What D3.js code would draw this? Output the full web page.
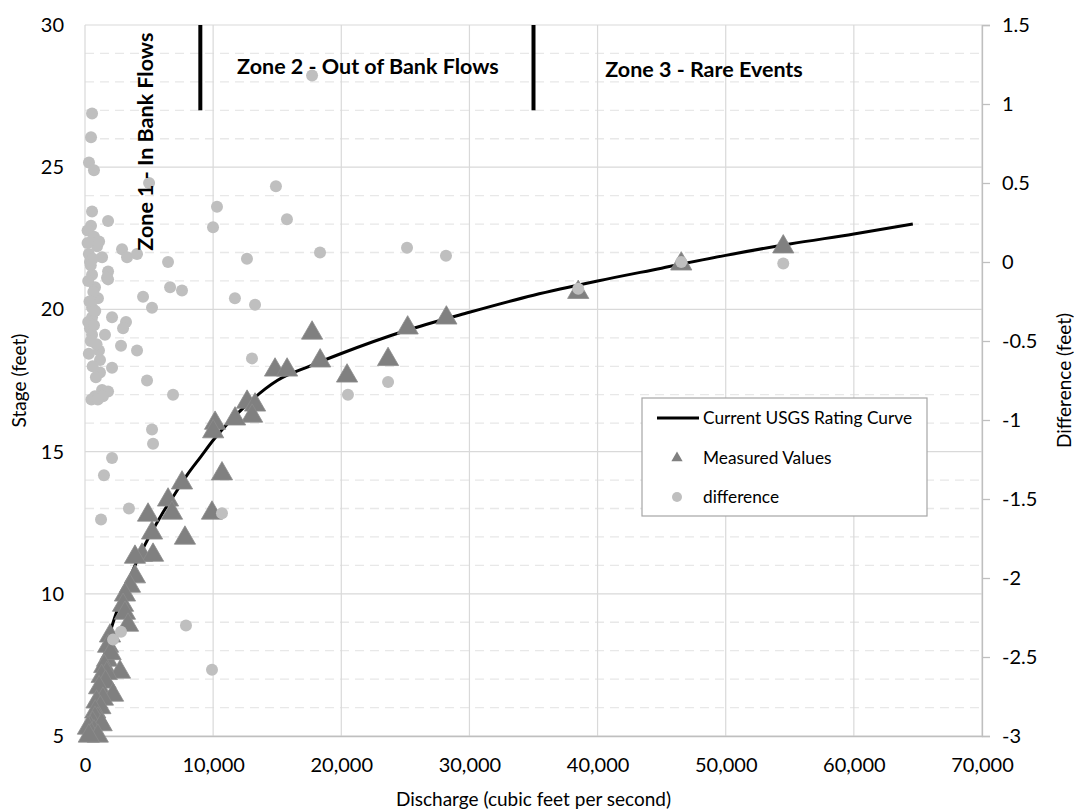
<!DOCTYPE html>
<html>
<head>
<meta charset="utf-8">
<script src="https://cdn.jsdelivr.net/npm/d3@7"></script>
<style>
  body { margin: 0; background: #fff; }
  svg { font-family: Lato, "Open Sans", sans-serif; }
</style>
</head>
<body>
<svg id="chart" width="1074" height="811"></svg>
<script>
// rating curve, [discharge, stage]
const ratingCurve = [
  [400, 5.0], [700, 5.9], [1000, 6.7], [1500, 7.8], [2000, 8.7], [2500, 9.4],
  [3000, 10.0], [4000, 11.1], [5000, 12.0], [6000, 12.8], [7000, 13.5],
  [8000, 14.2], [9000, 14.8], [10000, 15.4], [12500, 16.6], [15000, 17.5],
  [17500, 18.0], [20000, 18.45], [25000, 19.25], [30000, 19.9], [35000, 20.5],
  [40000, 21.0], [45000, 21.45], [50000, 21.9], [55000, 22.3], [60000, 22.65],
  [64600, 23.0],
];

// measured values, [discharge, stage]
const measured = [
  [38490, 20.6], [46530, 21.6], [54490, 22.2], [28200, 19.7], [25180, 19.35],
  [23650, 18.24], [20450, 17.66], [17720, 19.17], [18350, 18.19], [14830, 17.87],
  [15770, 17.87], [12650, 16.74], [13270, 16.64], [13040, 16.25], [11710, 16.15],
  [10150, 16.0], [10000, 15.7], [10690, 14.22], [9910, 12.84], [7570, 13.9],
  [6480, 13.3], [6790, 12.84], [4920, 12.77], [5230, 12.14], [7800, 11.96],
  [4450, 11.36], [5310, 11.36], [3900, 11.29], [3900, 10.6], [3510, 10.27],
  [3120, 9.96], [2970, 9.6], [3120, 9.32], [3360, 8.9], [1950, 8.52],
  [1800, 8.16], [1720, 7.67], [2000, 7.9], [1500, 7.45], [2730, 7.25],
  [1700, 7.2], [1300, 7.1], [1600, 6.9], [1100, 6.7], [2190, 6.44],
  [1400, 6.3], [900, 6.2], [1200, 6.0], [800, 5.85], [1000, 5.6],
  [780, 5.63], [600, 5.45], [1300, 5.4], [400, 5.3], [230, 5.28],
  [700, 5.15], [500, 5.05], [1000, 5.0], [300, 5.0],
];

// difference, [discharge, feet] on the right axis
const difference = [
  [550, 0.94], [470, 0.79], [310, 0.63], [700, 0.58], [5000, 0.50],
  [17720, 1.18], [14900, 0.48], [10300, 0.35], [9990, 0.22], [15760, 0.27],
  [12640, 0.02], [18340, 0.06], [11700, -0.23], [13270, -0.27], [13030, -0.61],
  [23650, -0.76], [20520, -0.84], [25130, 0.09], [28170, 0.04], [38490, -0.17],
  [46530, 0.0], [54490, -0.01], [10690, -1.59],
  [550, 0.32], [470, 0.23], [1800, 0.26], [2890, 0.08], [3280, 0.03],
  [4060, 0.05], [6480, 0.0], [940, 0.10], [1330, 0.03], [390, 0.0],
  [1800, -0.06], [550, -0.08], [1720, -0.10], [1800, -0.11], [6640, -0.16],
  [7570, -0.18], [4530, -0.22], [5230, -0.29], [780, -0.16], [1010, -0.23],
  [550, -0.29], [2110, -0.35], [3200, -0.38], [2970, -0.42], [550, -0.35],
  [390, -0.42], [1560, -0.46], [550, -0.46], [2810, -0.53], [4060, -0.56],
  [1090, -0.56], [1170, -0.62], [2110, -0.67], [1170, -0.70], [4840, -0.75],
  [1330, -0.81], [1800, -0.82], [780, -0.85], [1400, -0.85], [6870, -0.84],
  [5230, -1.06], [5310, -1.15], [2110, -1.24], [1480, -1.35],
  [3430, -1.56], [1250, -1.63], [7880, -2.30], [2810, -2.34], [2190, -2.39],
  [9910, -2.58],
  [200, 0.12], [300, 0.05], [600, 0.02], [450, -0.02], [250, -0.12],
  [650, -0.19], [350, -0.25], [800, -0.31], [250, -0.38], [700, -0.40],
  [450, -0.50], [900, -0.52], [300, -0.58], [600, -0.66], [850, -0.73],
  [500, -0.87], [1000, -0.87], [200, 0.20], [700, 0.16], [1100, 0.13],
];

const zoneBounds = [9000, 35000];
const zoneLabels = ['Zone 1 - In Bank Flows', 'Zone 2 - Out of Bank Flows', 'Zone 3 - Rare Events'];
const legendLabels = ['Current USGS Rating Curve', 'Measured Values', 'difference'];

const GRID = '#d9d9d9';
const TRI = '#808080';
const DOT = '#bfbfbf';

const plot = { left: 85, right: 982, top: 25, bottom: 736 };
const svg = d3.select('#chart');

const x = d3.scaleLinear().domain([0, 70000]).range([plot.left, plot.right]);
const y = d3.scaleLinear().domain([5, 30]).range([plot.bottom, plot.top]);
const y2 = d3.scaleLinear().domain([-3, 1.5]).range([plot.bottom, plot.top]);

// minor dashed gridlines every foot
svg.append('g')
  .selectAll('line')
  .data(y.ticks(25).filter(d => d % 5 !== 0))
  .join('line')
  .attr('x1', plot.left).attr('x2', plot.right)
  .attr('y1', d => y(d)).attr('y2', d => y(d))
  .attr('stroke', '#e8e8e8')
  .attr('stroke-width', 1.3)
  .attr('stroke-dasharray', '9,6');

// major gridlines
svg.append('g')
  .selectAll('line')
  .data(y.ticks(5))
  .join('line')
  .attr('x1', plot.left).attr('x2', plot.right)
  .attr('y1', d => y(d)).attr('y2', d => y(d))
  .attr('stroke', GRID)
  .attr('stroke-width', 1.2);

svg.append('g')
  .selectAll('line')
  .data(x.ticks(7))
  .join('line')
  .attr('x1', d => x(d)).attr('x2', d => x(d))
  .attr('y1', plot.top).attr('y2', plot.bottom)
  .attr('stroke', GRID)
  .attr('stroke-width', 1.2);

// axes
const xAxis = svg.append('g')
  .attr('transform', `translate(0,${plot.bottom})`)
  .call(d3.axisBottom(x).ticks(7).tickSize(0).tickPadding(22).tickFormat(d3.format(',')));
xAxis.select('.domain').attr('stroke', '#bfbfbf').attr('stroke-width', 1.3);

const yAxis = svg.append('g')
  .attr('transform', `translate(${plot.left},0)`)
  .call(d3.axisLeft(y).ticks(5).tickSize(0).tickPadding(21));
yAxis.select('.domain').remove();

const y2Axis = svg.append('g')
  .attr('transform', `translate(${plot.right},0)`)
  .call(d3.axisRight(y2).ticks(9).tickSize(8).tickPadding(12).tickFormat(d => String(d)));
y2Axis.select('.domain').attr('stroke', '#bfbfbf').attr('stroke-width', 1.3);
y2Axis.selectAll('.tick line').attr('stroke', '#bfbfbf').attr('stroke-width', 1.3);

svg.selectAll('.tick text')
  .attr('fill', '#000')
  .style('font-size', '20px')
  .style('font-family', 'Lato, sans-serif');

// axis titles
svg.append('text')
  .attr('x', (plot.left + plot.right) / 2)
  .attr('y', 806)
  .attr('text-anchor', 'middle')
  .style('font-size', '19px')
  .text('Discharge (cubic feet per second)');

svg.append('text')
  .attr('transform', `translate(26,${(plot.top + plot.bottom) / 2}) rotate(-90)`)
  .attr('text-anchor', 'middle')
  .style('font-size', '19px')
  .text('Stage (feet)');

svg.append('text')
  .attr('transform', `translate(1071,${(plot.top + plot.bottom) / 2}) rotate(-90)`)
  .attr('text-anchor', 'middle')
  .style('font-size', '19px')
  .text('Difference (feet)');

// rating curve
const line = d3.line()
  .x(d => x(d[0]))
  .y(d => y(d[1]))
  .curve(d3.curveMonotoneX);

svg.append('path')
  .datum(ratingCurve)
  .attr('d', line)
  .attr('fill', 'none')
  .attr('stroke', '#000')
  .attr('stroke-width', 3);

// measured values
const tri = d3.symbol().type(d3.symbolTriangle).size(195);
svg.append('g')
  .selectAll('path')
  .data(measured)
  .join('path')
  .attr('d', tri)
  .attr('transform', d => `translate(${x(d[0])},${y(d[1])})`)
  .attr('fill', TRI)
  .attr('stroke', '#8c8c8c')
  .attr('stroke-width', 0.8);

// difference on the secondary axis
svg.append('g')
  .selectAll('circle')
  .data(difference)
  .join('circle')
  .attr('cx', d => x(d[0]))
  .attr('cy', d => y2(d[1]))
  .attr('r', 6)
  .attr('fill', DOT);

// zone boundaries
svg.append('g')
  .selectAll('line')
  .data(zoneBounds)
  .join('line')
  .attr('x1', d => x(d)).attr('x2', d => x(d))
  .attr('y1', y(30)).attr('y2', y(27))
  .attr('stroke', '#000')
  .attr('stroke-width', 4);

svg.append('text')
  .attr('transform', `translate(${x(4700) + 8},${y(25.9)}) rotate(-90)`)
  .attr('text-anchor', 'middle')
  .style('font-size', '21.5px')
  .style('font-weight', 'bold')
  .text(zoneLabels[0]);

svg.append('text')
  .attr('x', x(11870))
  .attr('y', 74)
  .style('font-size', '21.5px')
  .style('font-weight', 'bold')
  .text(zoneLabels[1]);

svg.append('text')
  .attr('x', x(40600))
  .attr('y', 77)
  .style('font-size', '21.5px')
  .style('font-weight', 'bold')
  .text(zoneLabels[2]);

// legend
const legend = svg.append('g').attr('transform', 'translate(642,398)');
legend.append('rect')
  .attr('width', 285).attr('height', 118)
  .attr('fill', '#fff')
  .attr('stroke', '#a6a6a6')
  .attr('stroke-width', 1.2);

legend.append('line')
  .attr('x1', 15).attr('x2', 57)
  .attr('y1', 20).attr('y2', 20)
  .attr('stroke', '#000').attr('stroke-width', 3);
legend.append('path')
  .attr('d', d3.symbol().type(d3.symbolTriangle).size(55))
  .attr('transform', 'translate(35,60)')
  .attr('fill', TRI);
legend.append('circle')
  .attr('cx', 35).attr('cy', 99).attr('r', 5)
  .attr('fill', DOT);

legend.selectAll('text.lab')
  .data(legendLabels)
  .join('text')
  .attr('class', 'lab')
  .attr('x', 61)
  .attr('y', (d, i) => 20 + i * 39.5)
  .attr('dy', '0.35em')
  .style('font-size', '17.3px')
  .text(d => d);
</script>
</body>
</html>
